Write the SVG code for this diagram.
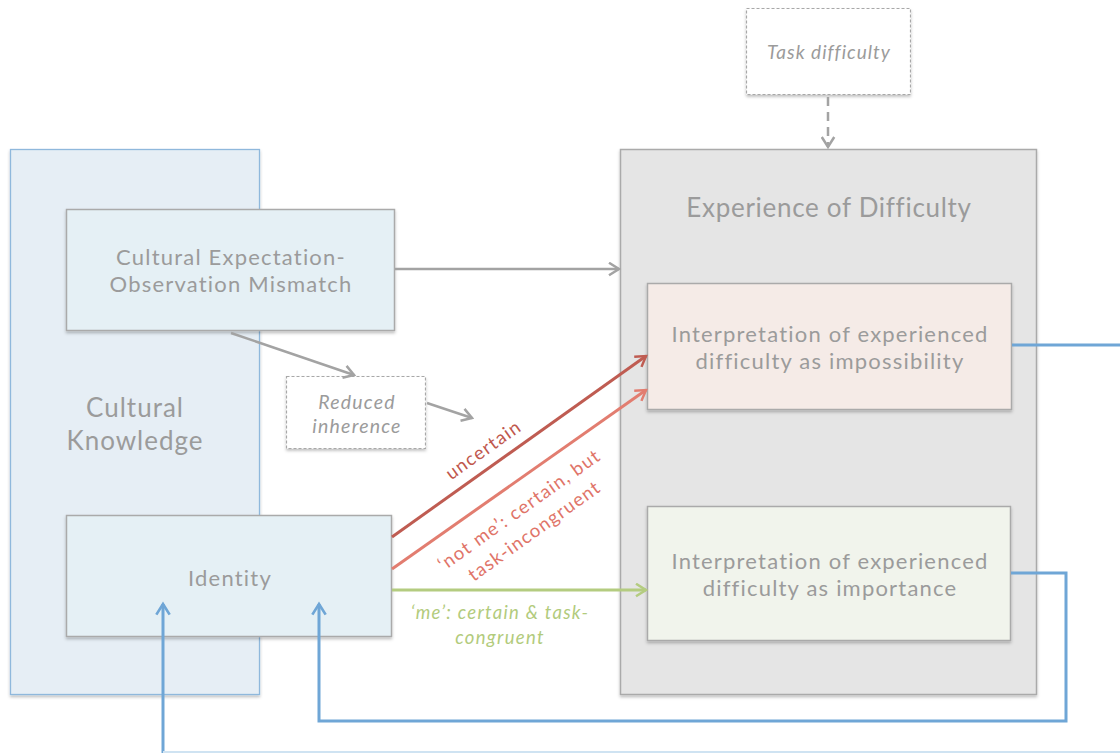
<svg xmlns="http://www.w3.org/2000/svg" width="1120" height="753" viewBox="0 0 1120 753">
  <style>
    text { font-family: Lato, "Noto Sans", "DejaVu Sans", sans-serif; fill: #9b9b9b; text-anchor: middle; }
    .box { stroke: #aaaaaa; stroke-width: 1.5; filter: url(#shadow); }
    .dashed { fill: #ffffff; stroke: #a8a8a8; stroke-width: 1.2; stroke-dasharray: 3 2; filter: url(#shadow); }
    .gray { stroke: #a3a3a3; stroke-width: 2.5; fill: none; }
    .blue { stroke: #6fa6d6; stroke-width: 3; fill: none; }
    .t21 { font-size: 22px; letter-spacing: 1.2px; }
    .lbl { font-size: 18.5px; letter-spacing: 1.3px; }
    .it { font-style: italic; }
  </style>
  <defs>
    <filter id="shadow" x="-10%" y="-10%" width="120%" height="125%">
      <feDropShadow dx="0" dy="2" stdDeviation="1.5" flood-color="#000" flood-opacity="0.25"/>
    </filter>
    <marker id="aGray" viewBox="0 0 12 12" refX="10" refY="6" markerWidth="15" markerHeight="15" markerUnits="userSpaceOnUse" orient="auto">
      <path d="M2,1 L10,6 L2,11" fill="none" stroke="#a3a3a3" stroke-width="2"/>
    </marker>
    <marker id="aDark" viewBox="0 0 12 12" refX="10" refY="6" markerWidth="15" markerHeight="15" markerUnits="userSpaceOnUse" orient="auto">
      <path d="M2,1 L10,6 L2,11" fill="none" stroke="#bf5c52" stroke-width="2"/>
    </marker>
    <marker id="aLight" viewBox="0 0 12 12" refX="10" refY="6" markerWidth="15" markerHeight="15" markerUnits="userSpaceOnUse" orient="auto">
      <path d="M2,1 L10,6 L2,11" fill="none" stroke="#e27d70" stroke-width="2"/>
    </marker>
    <marker id="aGreen" viewBox="0 0 12 12" refX="10" refY="6" markerWidth="15" markerHeight="15" markerUnits="userSpaceOnUse" orient="auto">
      <path d="M2,1 L10,6 L2,11" fill="none" stroke="#b4cc80" stroke-width="2"/>
    </marker>
    <marker id="aBlue" viewBox="0 0 12 12" refX="10" refY="6" markerWidth="16" markerHeight="16" markerUnits="userSpaceOnUse" orient="auto">
      <path d="M2,1 L10,6 L2,11" fill="none" stroke="#6fa6d6" stroke-width="2"/>
    </marker>
  </defs>

  <rect width="1120" height="753" fill="#ffffff"/>

  <!-- containers -->
  <g id="cultural-knowledge">
    <rect x="10.5" y="149.5" width="249" height="545" fill="#e6eef5" stroke="#8fb8dc" stroke-width="1.3" filter="url(#shadow)"/>
    <text x="135" y="417" font-size="26" letter-spacing="1">Cultural</text>
    <text x="135" y="450" font-size="26" letter-spacing="1">Knowledge</text>
  </g>

  <g id="experience-of-difficulty">
    <rect class="box" x="620.5" y="149.5" width="416" height="545" fill="#e5e5e5"/>
    <text x="829" y="217" font-size="26" letter-spacing="0.7">Experience of Difficulty</text>
  </g>

  <!-- nodes -->
  <g id="task-difficulty">
    <rect class="dashed" x="746.5" y="8.5" width="164" height="86"/>
    <text class="it" x="829" y="59" font-size="19" letter-spacing="1">Task difficulty</text>
  </g>

  <g id="expectation-mismatch">
    <rect class="box" x="66.5" y="209.5" width="328" height="121" fill="#e5f0f5"/>
    <text class="t21" x="231" y="265">Cultural Expectation-</text>
    <text class="t21" x="231" y="292">Observation Mismatch</text>
  </g>

  <g id="reduced-inherence">
    <rect class="dashed" x="286.5" y="376.5" width="139" height="72"/>
    <text class="it" x="357" y="409" font-size="19.5" letter-spacing="1.2">Reduced</text>
    <text class="it" x="357" y="433" font-size="19.5" letter-spacing="1.2">inherence</text>
  </g>

  <g id="identity">
    <rect class="box" x="66.5" y="515.5" width="325" height="121" fill="#e5f0f5"/>
    <text class="t21" x="230" y="586">Identity</text>
  </g>

  <g id="impossibility">
    <rect class="box" x="647.5" y="283.5" width="364" height="126" fill="#f5ebe7"/>
    <text class="t21" x="830" y="342">Interpretation of experienced</text>
    <text class="t21" x="830" y="369">difficulty as impossibility</text>
  </g>

  <g id="importance">
    <rect class="box" x="647.5" y="506.5" width="363" height="134" fill="#f1f4ec"/>
    <text class="t21" x="830" y="569">Interpretation of experienced</text>
    <text class="t21" x="830" y="596">difficulty as importance</text>
  </g>

  <!-- connectors -->
  <g id="connectors">
    <line class="gray" x1="395" y1="269" x2="619" y2="269" marker-end="url(#aGray)"/>
    <line class="gray" x1="231" y1="333" x2="354" y2="375" marker-end="url(#aGray)"/>
    <line class="gray" x1="427" y1="403" x2="472" y2="418" marker-end="url(#aGray)"/>
    <line class="gray" x1="828" y1="97" x2="828" y2="147" stroke-dasharray="9 6" marker-end="url(#aGray)"/>

    <line x1="392" y1="537" x2="646" y2="356" stroke="#bf5c52" stroke-width="3" marker-end="url(#aDark)"/>
    <line x1="392" y1="569" x2="646" y2="390" stroke="#e27d70" stroke-width="3" marker-end="url(#aLight)"/>
    <line x1="392" y1="590" x2="646" y2="590" stroke="#b4cc80" stroke-width="3" marker-end="url(#aGreen)"/>

    <text class="lbl" style="fill:#c0574d" x="487" y="455" transform="rotate(-35.5 487 455)">uncertain</text>
    <text class="lbl" style="fill:#e07468" x="523" y="515" transform="rotate(-35.5 523 515)">‘not me’: certain, but</text>
    <text class="lbl" style="fill:#e07468" x="538" y="536" transform="rotate(-35.5 538 536)">task-incongruent</text>
    <text class="lbl it" style="fill:#b2cb7c" x="500" y="619">‘me’: certain &amp; task-</text>
    <text class="lbl it" style="fill:#b2cb7c" x="500" y="644">congruent</text>

    <line class="blue" x1="1012" y1="345" x2="1120" y2="345"/>
    <path class="blue" d="M1011,573 H1066 V721 H319 V604" marker-end="url(#aBlue)"/>
    <path class="blue" d="M163,760 V604" marker-end="url(#aBlue)"/>
    <line x1="163" y1="752" x2="1120" y2="752" stroke="#cfe3f2" stroke-width="2"/>
  </g>
</svg>
